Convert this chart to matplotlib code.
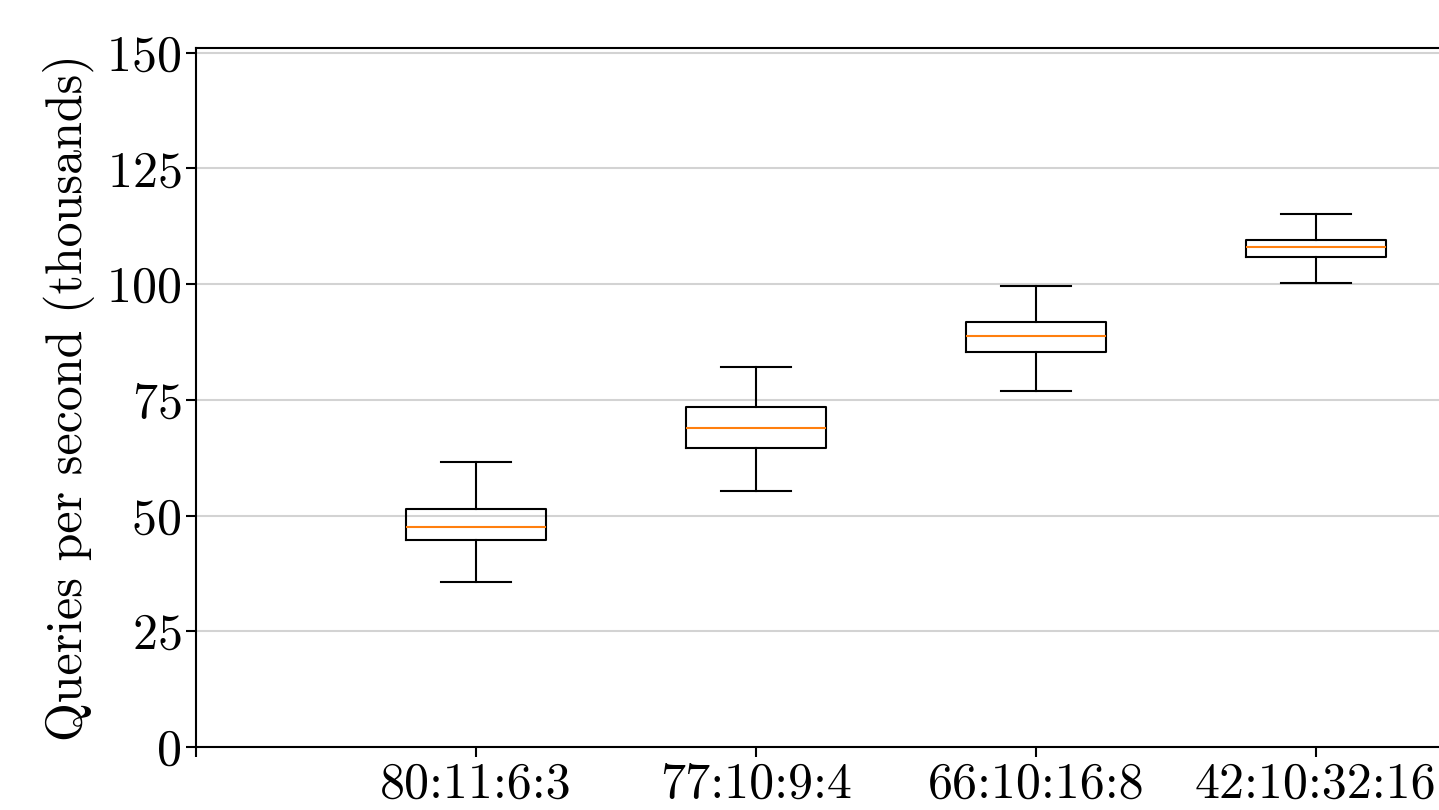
"""Queries per second box plot for the four workload mixes."""
import matplotlib
matplotlib.use('Agg')
import matplotlib.pyplot as plt

plt.rc('font', family='cmr10', size=36)
plt.rc('mathtext', fontset='cm')
plt.rc('axes', unicode_minus=False)
plt.rc('axes.formatter', use_mathtext=True)

# Workload mixes
mixes = ['80:11:6:3', '77:10:9:4', '66:10:16:8', '42:10:32:16']
# Box statistics (thousands of queries per second)
whislo = [35.6, 55.3, 76.9, 100.2]
q1 = [44.7, 64.6, 85.3, 105.8]
med = [47.5, 68.9, 88.8, 108.0]
q3 = [51.4, 73.4, 91.8, 109.5]
whishi = [61.6, 82.1, 99.6, 115.1]

stats = []
for i, name in enumerate(mixes):
    stats.append({
        'label': name,
        'whislo': whislo[i],
        'q1': q1[i],
        'med': med[i],
        'q3': q3[i],
        'whishi': whishi[i],
        'fliers': [],
    })

fig = plt.figure(figsize=(14.39, 8.10), dpi=100)
ax = fig.add_axes([0.1362, 0.0778, 0.8638, 0.8629])

lw = 1.5
ax.bxp(stats, positions=range(1, len(mixes) + 1), widths=0.5,
       boxprops=dict(linewidth=lw, color='black'),
       whiskerprops=dict(linewidth=lw, color='black'),
       capprops=dict(linewidth=lw, color='black'),
       medianprops=dict(linewidth=lw, color='#ff7f0e'),
       showfliers=False)

ax.set_xlim(0, 4.44)
ax.set_ylim(0, 151)
ax.set_xticks(range(len(mixes) + 1))
ax.set_xticklabels([''] + mixes)
ax.set_yticks([0, 25, 50, 75, 100, 125, 150])
ax.set_ylabel('Queries per second (thousands)', labelpad=8)

# Light horizontal grid behind the boxes
ax.grid(axis='y', color='lightgrey', linewidth=1.5)
ax.set_axisbelow(True)
ax.spines['right'].set_visible(False)
for side in ['top', 'left', 'bottom']:
    ax.spines[side].set_linewidth(lw)
ax.tick_params(width=lw, length=7)

fig.savefig('out.png', dpi=100)
